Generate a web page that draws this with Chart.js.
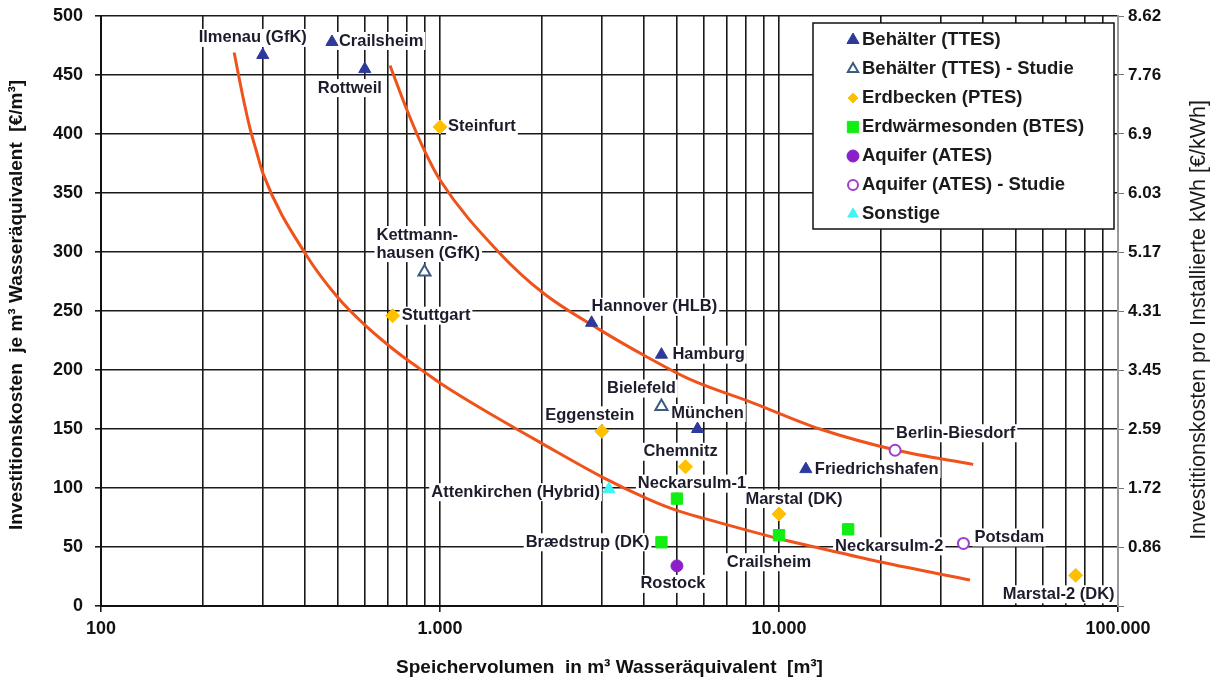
<!DOCTYPE html>
<html>
<head>
<meta charset="utf-8">
<script src="https://cdn.jsdelivr.net/npm/chart.js@4/dist/chart.umd.min.js"></script>
<style>
  html, body { margin: 0; padding: 0; background: #fff; }
  #wrap { width: 1213px; height: 680px; }
</style>
</head>
<body>
<div id="wrap"><canvas id="chart"></canvas></div>
<script>
// storage projects: volume [m3 water equivalent] and cost [EUR/m3]
var ttesNames = ['Ilmenau (GfK)', 'Crailsheim', 'Rottweil', 'Hannover (HLB)', 'Hamburg', 'München', 'Friedrichshafen'];
var ttesVolume = [300, 480, 600, 2800, 4500, 5750, 12000];
var ttesCost = [467, 478, 455, 240, 213, 150, 116];

var ttesStudyNames = ['Kettmann-\nhausen (GfK)', 'Bielefeld'];
var ttesStudyVolume = [900, 4500];
var ttesStudyCost = [283, 169];

var ptesNames = ['Steinfurt', 'Stuttgart', 'Eggenstein', 'Chemnitz', 'Marstal (DK)', 'Marstal-2 (DK)'];
var ptesVolume = [1000, 725, 3000, 5300, 10000, 75000];
var ptesCost = [406, 246, 148, 118, 78, 26];

var btesNames = ['Neckarsulm-1', 'Brædstrup (DK)', 'Crailsheim', 'Neckarsulm-2'];
var btesVolume = [5000, 4500, 10000, 16000];
var btesCost = [91, 54, 60, 65];

var atesNames = ['Rostock'];
var atesVolume = [5000];
var atesCost = [34];

var atesStudyNames = ['Berlin-Biesdorf', 'Potsdam'];
var atesStudyVolume = [22000, 35000];
var atesStudyCost = [132, 53];

var otherNames = ['Attenkirchen (Hybrid)'];
var otherVolume = [3150];
var otherCost = [99];

// the two trend curves
var upperCurveVolume = [712, 805, 903, 1000, 1500, 2020, 2965, 4080, 5465, 8400, 13200, 22250, 37400];
var upperCurveCost = [458, 418, 385, 361, 299, 265, 234, 211, 192, 172, 150, 132, 120];
var lowerCurveVolume = [247, 262, 275, 287, 301, 404, 501, 601, 704, 806, 903, 1000, 1312, 2020, 3020, 4080, 4990, 6050, 10000, 13200, 20100, 36600];
var lowerCurveCost = [469, 432, 405, 386, 366, 297, 261, 238, 221, 208, 198, 189, 168, 137, 109, 91, 81, 74, 57, 49, 37, 22];

// axes
var xDecades = [100, 1000, 10000, 100000];
var xTickLabels = ['100', '1.000', '10.000', '100.000'];
var rightTickValues = [50, 100, 150, 200, 250, 300, 350, 400, 450, 500];
var rightTickLabels = ['0.86', '1.72', '2.59', '3.45', '4.31', '5.17', '6.03', '6.9', '7.76', '8.62'];
var leftTitle = 'Investitionskosten  je m³ Wasseräquivalent  [€/m³]';
var rightTitleText = 'Investitionskosten pro Installierte kWh [€/kWh]';

// label placement: [dx, dy, align] from the marker
var ttesLabelPos = [[-10, -17, 'center'], [7, -1, 'left'], [-15, 19, 'center'], [0, -16, 'left'], [11, 0, 'left'], [10, -16, 'center'], [9, 0, 'left']];
var ttesStudyLabelPos = [[-48, -37, 'left'], [-20, -18, 'center']];
var ptesLabelPos = [[8, 0, 'left'], [9, 0, 'left'], [-12, -16, 'center'], [-5, -15, 'center'], [15, -15, 'center'], [-17, 19, 'center']];
var btesLabelPos = [[15, -15, 'center'], [-12, 0, 'right'], [-10, 27, 'center'], [41, 17, 'center']];
var atesLabelPos = [[-4, 18, 'center']];
var atesStudyLabelPos = [[1, -17, 'left'], [11, -6, 'left']];
var otherLabelPos = [[-9, 3, 'right']];

var FONT = '"Liberation Sans", Arial, Helvetica, sans-serif';

function toPoints(xs, ys) {
    var pts = [];
    for (var i = 0; i < xs.length; i++) {
        pts.push({ x: xs[i], y: ys[i] });
    }
    return pts;
}

function scatterSet(label, names, xs, ys, pos, style) {
    return {
        type: 'scatter',
        label: label,
        names: names,
        labelPos: pos,
        data: toPoints(xs, ys),
        pointStyle: style.shape,
        pointRadius: style.radius,
        pointHoverRadius: style.radius,
        backgroundColor: style.fill,
        borderColor: style.stroke,
        pointBorderWidth: style.borderWidth,
        legendRadius: style.legendRadius
    };
}

function curveSet(xs, ys) {
    return {
        type: 'line',
        label: '',
        data: toPoints(xs, ys),
        borderColor: '#f0521c',
        borderWidth: 3,
        pointRadius: 0,
        fill: false,
        cubicInterpolationMode: 'monotone'
    };
}

function drawMarker(ctx, shape, x, y, r) {
    ctx.beginPath();
    if (shape === 'triangle') {
        ctx.moveTo(x, y - r);
        ctx.lineTo(x + r * 0.866, y + r * 0.5);
        ctx.lineTo(x - r * 0.866, y + r * 0.5);
        ctx.closePath();
    } else if (shape === 'rectRot') {
        ctx.moveTo(x, y - r);
        ctx.lineTo(x + r, y);
        ctx.lineTo(x, y + r);
        ctx.lineTo(x - r, y);
        ctx.closePath();
    } else if (shape === 'rect') {
        ctx.rect(x - r * 0.707, y - r * 0.707, r * 1.414, r * 1.414);
    } else {
        ctx.arc(x, y, r, 0, Math.PI * 2);
    }
    ctx.fill();
    ctx.stroke();
}

var pointLabels = {
    id: 'pointLabels',
    beforeDatasetsDraw: function(chart) {
        var ctx = chart.ctx;
        ctx.save();
        ctx.font = 'bold 16.5px ' + FONT;
        ctx.textBaseline = 'middle';
        ctx.textAlign = 'left';
        chart.data.datasets.forEach(function(ds, i) {
            if (!ds.names) return;
            var meta = chart.getDatasetMeta(i);
            meta.data.forEach(function(pt, j) {
                var place = ds.labelPos[j];
                var lines = ds.names[j].split('\n');
                lines.forEach(function(line, k) {
                    var w = ctx.measureText(line).width;
                    var x = pt.x + place[0];
                    var y = pt.y + place[1] + k * 18;
                    var left = place[2] === 'left' ? x : (place[2] === 'right' ? x - w : x - w / 2);
                    ctx.fillStyle = '#fff';
                    ctx.fillRect(left - 2, y - 9, w + 4, 18);
                    ctx.fillStyle = '#1c1c2c';
                    ctx.fillText(line, left, y);
                });
            });
        });
        ctx.restore();
    }
};

var boxLegend = {
    id: 'boxLegend',
    afterDraw: function(chart) {
        var ctx = chart.ctx;
        var left = 813, top = 23, width = 301, height = 206;
        ctx.save();
        ctx.fillStyle = '#fff';
        ctx.fillRect(left, top, width, height);
        ctx.strokeStyle = '#111';
        ctx.lineWidth = 1.5;
        ctx.strokeRect(left, top, width, height);
        ctx.font = 'bold 18.5px ' + FONT;
        ctx.textBaseline = 'middle';
        var row = 0;
        chart.data.datasets.forEach(function(ds) {
            if (!ds.names) return;
            var y = top + 17 + row * 29;
            ctx.fillStyle = ds.backgroundColor;
            ctx.strokeStyle = ds.borderColor;
            ctx.lineWidth = ds.pointBorderWidth;
            drawMarker(ctx, ds.pointStyle, left + 40, y, ds.legendRadius);
            ctx.fillStyle = '#1a1a1a';
            ctx.fillText(ds.label, left + 49, y);
            row++;
        });
        ctx.restore();
    }
};

// vertical axis titles, both reading bottom to top
var sideTitles = {
    id: 'sideTitles',
    afterDraw: function(chart) {
        var ctx = chart.ctx;
        ctx.save();
        ctx.fillStyle = '#111';
        ctx.textAlign = 'center';
        ctx.textBaseline = 'middle';

        ctx.save();
        ctx.translate(17, 305);
        ctx.rotate(-Math.PI / 2);
        ctx.font = 'bold 19px ' + FONT;
        ctx.fillText(leftTitle, 0, 0);
        ctx.restore();

        ctx.translate(1199, 320);
        ctx.rotate(-Math.PI / 2);
        ctx.font = '21.5px ' + FONT;
        ctx.fillStyle = '#1a1a1a';
        ctx.fillText(rightTitleText, 0, 0);
        ctx.restore();
    }
};

function noTopPadding(scale) {
    scale.paddingTop = 0;
    scale.paddingBottom = 0;
}

new Chart(document.getElementById('chart'), {
    data: {
        datasets: [
            scatterSet('Behälter (TTES)', ttesNames, ttesVolume, ttesCost, ttesLabelPos,
                { shape: 'triangle', radius: 7, fill: '#2d3a9c', stroke: '#2d3a9c', borderWidth: 1, legendRadius: 7 }),
            scatterSet('Behälter (TTES) - Studie', ttesStudyNames, ttesStudyVolume, ttesStudyCost, ttesStudyLabelPos,
                { shape: 'triangle', radius: 7, fill: '#fff', stroke: '#3d5a80', borderWidth: 2, legendRadius: 6 }),
            scatterSet('Erdbecken (PTES)', ptesNames, ptesVolume, ptesCost, ptesLabelPos,
                { shape: 'rectRot', radius: 7, fill: '#ffc000', stroke: '#ffc000', borderWidth: 1, legendRadius: 5 }),
            scatterSet('Erdwärmesonden (BTES)', btesNames, btesVolume, btesCost, btesLabelPos,
                { shape: 'rect', radius: 8, fill: '#11ee11', stroke: '#11ee11', borderWidth: 1, legendRadius: 8 }),
            scatterSet('Aquifer (ATES)', atesNames, atesVolume, atesCost, atesLabelPos,
                { shape: 'circle', radius: 6, fill: '#8b20c8', stroke: '#8b20c8', borderWidth: 1, legendRadius: 6 }),
            scatterSet('Aquifer (ATES) - Studie', atesStudyNames, atesStudyVolume, atesStudyCost, atesStudyLabelPos,
                { shape: 'circle', radius: 5.5, fill: '#fff', stroke: '#9b40d0', borderWidth: 2, legendRadius: 5 }),
            scatterSet('Sonstige', otherNames, otherVolume, otherCost, otherLabelPos,
                { shape: 'triangle', radius: 7, fill: '#3ff5f5', stroke: '#3ff5f5', borderWidth: 1, legendRadius: 6 }),
            curveSet(upperCurveVolume, upperCurveCost),
            curveSet(lowerCurveVolume, lowerCurveCost)
        ]
    },
    options: {
        responsive: true,
        maintainAspectRatio: false,
        animation: false,
        devicePixelRatio: 1,
        layout: { padding: { top: 16, right: 0, left: 0, bottom: 0 } },
        plugins: {
            legend: { display: false },
            tooltip: { enabled: false }
        },
        scales: {
            x: {
                type: 'logarithmic',
                min: 100,
                max: 100000,
                afterBuildTicks: function(scale) {
                    var ticks = [];
                    xDecades.forEach(function(d, i) {
                        if (i === xDecades.length - 1) {
                            ticks.push({ value: d });
                            return;
                        }
                        for (var m = 1; m < 10; m++) ticks.push({ value: d * m });
                    });
                    scale.ticks = ticks;
                },
                afterFit: function(scale) { scale.height = 74; },
                ticks: {
                    autoSkip: false,
                    maxRotation: 0,
                    padding: 6,
                    color: '#111',
                    font: { family: FONT, size: 18, weight: 'bold' },
                    callback: function(value) {
                        var i = xDecades.indexOf(value);
                        return i >= 0 ? xTickLabels[i] : '';
                    }
                },
                grid: {
                    color: '#1a1a1a',
                    lineWidth: 1.6,
                    tickLength: 6,
                    tickColor: function(c) {
                        return c.tick && xDecades.indexOf(c.tick.value) >= 0 ? '#1a1a1a' : 'rgba(0,0,0,0)';
                    }
                },
                border: { color: '#111', width: 2 },
                title: {
                    display: true,
                    text: 'Speichervolumen  in m³ Wasseräquivalent  [m³]',
                    color: '#111',
                    font: { family: FONT, size: 19, weight: 'bold' },
                    padding: { top: 0, bottom: 1 }
                }
            },
            y: {
                type: 'linear',
                position: 'left',
                min: 0,
                max: 500,
                afterFit: function(scale) {
                    scale.width = 101;
                    noTopPadding(scale);
                },
                ticks: {
                    stepSize: 50,
                    padding: 12,
                    color: '#111',
                    font: { family: FONT, size: 18, weight: 'bold' }
                },
                grid: { color: '#1a1a1a', lineWidth: 1.6, tickLength: 6 },
                border: { color: '#111', width: 2 }
            },
            y2: {
                type: 'linear',
                position: 'right',
                min: 0,
                max: 500,
                afterFit: function(scale) {
                    scale.width = 95;
                    noTopPadding(scale);
                },
                ticks: {
                    stepSize: 50,
                    padding: 4,
                    color: '#111',
                    font: { family: FONT, size: 17, weight: 'bold' },
                    callback: function(value) {
                        var i = rightTickValues.indexOf(value);
                        return i >= 0 ? rightTickLabels[i] : '';
                    }
                },
                grid: { drawOnChartArea: false, color: '#777', tickLength: 6 },
                border: { color: '#999', width: 2 }
            }
        }
    },
    plugins: [pointLabels, boxLegend, sideTitles]
});
</script>
</body>
</html>
